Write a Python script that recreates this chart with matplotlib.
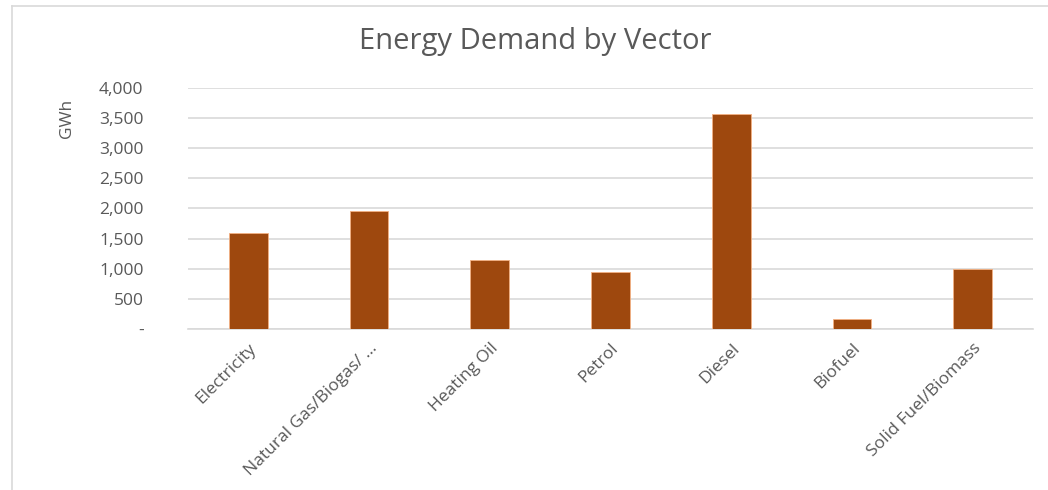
import numpy as np
import matplotlib
matplotlib.use("Agg")
import matplotlib.pyplot as plt
from matplotlib.lines import Line2D
from matplotlib.ticker import FuncFormatter

# Datos del gráfico
categorias = ["Electricity", "Natural Gas/Biogas/ ...", "Heating Oil", "Petrol",
              "Diesel", "Biofuel", "Solid Fuel/Biomass"]
demanda_gwh = [1590, 1960, 1145, 945, 3570, 165, 995]
ticks_y = [0, 500, 1000, 1500, 2000, 2500, 3000, 3500, 4000]

color_barra = "#9E480E"
gris_texto = "#595959"

plt.rcParams['font.family'] = ['Open Sans', 'DejaVu Sans']

fig = plt.figure(figsize=(10.48, 4.9), dpi=100)
ax = fig.add_axes([188 / 1048, 1 - 329 / 490, (1033 - 188) / 1048, (329 - 88) / 490])

x = np.arange(len(categorias))
ax.bar(x, demanda_gwh, width=0.32, color=color_barra, edgecolor="#F4B183",
       linewidth=0.6, zorder=3)

ax.set_xlim(-0.5, len(categorias) - 0.5)
ax.set_ylim(0, 4000)
ax.set_yticks(ticks_y)
ax.yaxis.set_major_formatter(FuncFormatter(lambda v, p: "-" if v == 0 else f"{int(v):,}"))
ax.grid(axis="y", color="#D9D9D9", linewidth=1.2, zorder=0)

ax.set_xticks(x)
ax.set_xticklabels(categorias, rotation=45, ha="right", rotation_mode="anchor")
ax.tick_params(axis="both", length=0, colors=gris_texto, labelsize=12.5)
ax.tick_params(axis="y", pad=32)
ax.tick_params(axis="x", pad=8)

for lado in ["top", "right", "left"]:
    ax.spines[lado].set_visible(False)
ax.spines["bottom"].set_color("#D9D9D9")
ax.spines["bottom"].set_linewidth(1.2)

# Etiqueta del eje Y y título
fig.text(67 / 1048, 1 - 118 / 490, "GWh", rotation=90, ha="center", va="center",
         color=gris_texto, fontsize=12.5)
fig.text(535 / 1048, 1 - 42 / 490, "Energy Demand by Vector", ha="center", va="center",
         color=gris_texto, fontsize=21)

# Borde del área del gráfico
fig.add_artist(Line2D([12 / 1048, 12 / 1048], [0, 1 - 6 / 490], color="#D9D9D9", linewidth=1.2))
fig.add_artist(Line2D([12 / 1048, 1], [1 - 6 / 490, 1 - 6 / 490], color="#D9D9D9", linewidth=1.2))

fig.savefig("out.png", dpi=100)
